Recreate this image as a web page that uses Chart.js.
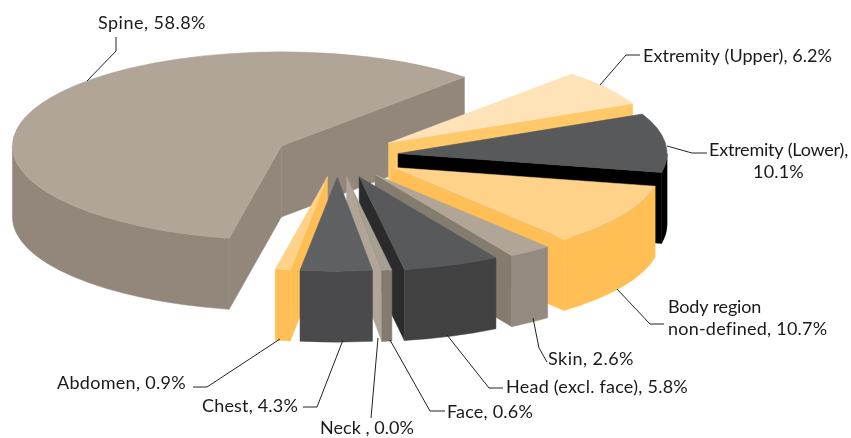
<!DOCTYPE html>
<html><head><meta charset="utf-8">
<script src="https://cdn.jsdelivr.net/npm/chart.js@4"></script>
<style>html,body{margin:0;padding:0;background:#fff}canvas{display:block}</style>
</head><body><canvas id="c" width="851" height="438"></canvas>
<script>
const categories = ["Spine","Extremity (Upper)","Extremity (Lower)","Body region non-defined","Skin","Head (excl. face)","Face","Neck","Chest","Abdomen"];
const values = [58.8,6.2,10.1,10.7,2.6,5.8,0.6,0.0,4.3,0.9];
const explode = [63,63,61,63,65,63,61,60,60,60];
const topColors = ["#b0a597","#ffe3b8","#58595b","#ffd28a","#b0a597","#58595b","#a89f93","#b0a597","#5f6062","#ffd28a"];
const radialColors = ["#93877c","#ffc868","#000000","#ffbf55","#857c70","#2b2b2b","#b0a597","#b0a597","#48484a","#ffbf55"];
const outerColors = ["#93877c","#ffc868","#000000","#ffbf55","#958a7f","#414141","#837b6f","#837b6f","#4a4a4c","#ffbf55"];
const drawOrder = [0,1,2,3,4,5,6,7,9,8];
const labelLines = [["Spine, 58.8%"],["Extremity (Upper), 6.2%"],["Extremity (Lower),","10.1%"],["Body region","non-defined, 10.7%"],["Skin, 2.6%"],["Head (excl. face), 5.8%"],["Face, 0.6%"],["Neck , 0.0%"],["Chest, 4.3%"],["Abdomen, 0.9%"]];
const labelBoxes = [
 [[98,23,108]],
 [[643,56,189]],
 [[709,150,139],[753,172,51]],
 [[668,307,93],[668,329,159]],
 [[548,359,86]],
 [[506,387,182]],
 [[447,412,86]],
 [[320,428,94]],
 [[202,406,96]],
 [[57,383,129]]
];
const leaders = [
 [[116,37],[116,51],[87,81]],
 [[640,55],[626,55],[600,85]],
 [[707,153],[692,153],[667,146]],
 [[664,324],[650,324],[617,289]],
 [[547,362],[539,348],[533,318]],
 [[503,388],[489,388],[447,335]],
 [[445,411],[430,411],[390,340]],
 [[371,418],[378,338]],
 [[303,407],[317,407],[343,340]],
 [[193,387],[207,387],[280,339]]
];
const TILT = 0.35, DEPTH = 71;

function drawSlice(ctx, el, i){
  const {x, y, startAngle:a0, endAngle:a1, outerRadius:R} = el;
  if (a1 - a0 <= 0) return;
  const off = el.options.offset || 0, mid = (a0 + a1) / 2;
  const ax = x + off * Math.cos(mid), ay = y + off * TILT * Math.sin(mid);
  const pt = a => [ax + R * Math.cos(a), ay + R * TILT * Math.sin(a)];
  const radial = a => {
    const p = pt(a);
    ctx.beginPath(); ctx.moveTo(ax, ay); ctx.lineTo(p[0], p[1]);
    ctx.lineTo(p[0], p[1] + DEPTH); ctx.lineTo(ax, ay + DEPTH); ctx.closePath();
    ctx.fillStyle = radialColors[i]; ctx.strokeStyle = radialColors[i]; ctx.lineWidth = .5;
    ctx.fill(); ctx.stroke();
  };
  if (Math.cos(a0) < 0) radial(a0);
  if (Math.cos(a1) > 0) radial(a1);
  // outer wall: only the front half of the rim faces the viewer
  const T = Math.PI * 2;
  for (let k = -1; k <= 2; k++) {
    const s = Math.max(a0, k * T), e = Math.min(a1, k * T + Math.PI);
    if (e > s) {
      ctx.beginPath();
      ctx.ellipse(ax, ay, R, R * TILT, 0, s, e);
      ctx.ellipse(ax, ay + DEPTH, R, R * TILT, 0, e, s, true);
      ctx.closePath();
      ctx.fillStyle = outerColors[i]; ctx.strokeStyle = outerColors[i]; ctx.lineWidth = .5;
      ctx.fill(); ctx.stroke();
    }
  }
  ctx.beginPath(); ctx.moveTo(ax, ay);
  ctx.ellipse(ax, ay, R, R * TILT, 0, a0, a1);
  ctx.closePath();
  ctx.fillStyle = el.options.backgroundColor; ctx.strokeStyle = el.options.backgroundColor; ctx.lineWidth = .5;
  ctx.fill(); ctx.stroke();
}

const pie3d = {
  id: 'pie3d',
  beforeDatasetsDraw(chart){
    const ctx = chart.ctx, arcs = chart.getDatasetMeta(0).data;
    ctx.save();
    drawOrder.forEach(i => drawSlice(ctx, arcs[i], i));
    ctx.restore();
    return false;
  },
  afterDraw(chart){
    const ctx = chart.ctx;
    ctx.save();
    ctx.lineWidth = 1; ctx.strokeStyle = "#222";
    leaders.forEach(l => {
      ctx.beginPath();
      l.forEach((p, j) => j ? ctx.lineTo(p[0], p[1]) : ctx.moveTo(p[0], p[1]));
      ctx.stroke();
    });
    ctx.font = '18px Lato'; ctx.fillStyle = "#1a1a1a"; ctx.textBaseline = 'middle'; ctx.textAlign = 'left';
    labelLines.forEach((lines, i) => {
      lines.forEach((t, j) => {
        const [lx, ly, w] = labelBoxes[i][j];
        ctx.letterSpacing = '0px';
        const natural = ctx.measureText(t).width;
        ctx.letterSpacing = ((w - natural) / t.length).toFixed(3) + 'px';
        ctx.fillText(t, lx, ly);
      });
    });
    ctx.restore();
  }
};

new Chart(document.getElementById('c'), {
  type: 'pie',
  plugins: [pie3d],
  data: { labels: categories, datasets: [{ data: values, backgroundColor: topColors, offset: explode, borderWidth: 0 }] },
  options: {
    responsive: false, animation: false, rotation: 191.2, radius: 269,
    layout: { padding: { left: 0, top: 0, right: 176, bottom: 126 } },
    plugins: { legend: { display: false }, tooltip: { enabled: false } }
  }
});
</script></body></html>
